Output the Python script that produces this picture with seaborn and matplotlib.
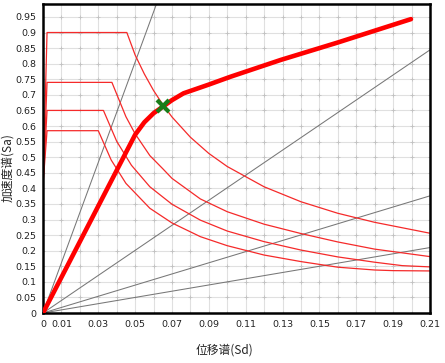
import numpy as np
import pandas as pd
import matplotlib
matplotlib.use("Agg")
import matplotlib.pyplot as plt
import seaborn as sns

# capacity spectrum (thick red line)
cap_sd = [0, 0.050, 0.055, 0.060, 0.0655, 0.070, 0.0763, 0.090, 0.1017, 0.129, 0.160, 0.1997]
cap_sa = [0, 0.572, 0.612, 0.641, 0.664, 0.683, 0.705, 0.733, 0.758, 0.812, 0.868, 0.943]

# demand spectra (thin red lines)
a_sd = [0, 0.0022, 0.0455, 0.050, 0.055, 0.060, 0.065, 0.070, 0.080, 0.090, 0.100, 0.120, 0.140, 0.160, 0.180, 0.210]
a_sa = [0.405, 0.90, 0.90, 0.828, 0.767, 0.714, 0.669, 0.629, 0.564, 0.512, 0.470, 0.405, 0.357, 0.320, 0.291, 0.256]
b_sd = [0, 0.0022, 0.0374, 0.045, 0.050, 0.058, 0.065, 0.070, 0.0854, 0.100, 0.120, 0.140, 0.160, 0.180, 0.210]
b_sa = [0.41, 0.74, 0.74, 0.630, 0.575, 0.505, 0.463, 0.432, 0.366, 0.325, 0.285, 0.255, 0.228, 0.205, 0.181]
c_sd = [0, 0.0022, 0.0328, 0.040, 0.048, 0.058, 0.070, 0.0854, 0.100, 0.120, 0.140, 0.160, 0.180, 0.195, 0.210]
c_sa = [0.41, 0.65, 0.65, 0.551, 0.474, 0.405, 0.349, 0.298, 0.263, 0.229, 0.202, 0.180, 0.163, 0.152, 0.148]
d_sd = [0, 0.0022, 0.030, 0.037, 0.045, 0.058, 0.070, 0.0854, 0.100, 0.120, 0.140, 0.160, 0.180, 0.190, 0.210]
d_sa = [0.41, 0.585, 0.585, 0.491, 0.416, 0.336, 0.289, 0.245, 0.216, 0.186, 0.165, 0.147, 0.138, 0.136, 0.135]

# constant period lines through origin (slope Sa/Sd)
period_slopes = [16.1, 4.02, 1.79, 1.0]

# performance point
pp_sd, pp_sa = 0.0653, 0.664

x_ticks = np.round(np.arange(0, 0.2101, 0.01), 2)
y_ticks = np.round(np.arange(0, 0.951, 0.05), 2)

demand = pd.concat([
    pd.DataFrame({"Sd": a_sd, "Sa": a_sa, "curve": "a"}),
    pd.DataFrame({"Sd": b_sd, "Sa": b_sa, "curve": "b"}),
    pd.DataFrame({"Sd": c_sd, "Sa": c_sa, "curve": "c"}),
    pd.DataFrame({"Sd": d_sd, "Sa": d_sa, "curve": "d"}),
])

sns.set_style("white")
plt.rcParams['font.family'] = ['DejaVu Sans', 'Noto Sans CJK SC']

fig = plt.figure(figsize=(4.45, 3.63), dpi=100)
ax = fig.add_axes([0.0966, 0.1377, 0.8696, 0.85])

# grid
for xv in x_ticks:
    ax.axvline(xv, color='#e0e0e0', lw=0.8, zorder=0)
for yv in y_ticks:
    ax.axhline(yv, color='#e0e0e0', lw=0.8, zorder=0)
gx, gy = np.meshgrid(x_ticks, y_ticks)
ax.plot(gx.ravel(), gy.ravel(), ls='none', marker='+', ms=3, mew=0.6, color='#c2c2c2', zorder=0.5)

for s in period_slopes:
    ax.axline((0, 0), slope=s, color='#777777', lw=0.75, zorder=1)

sns.lineplot(data=demand, x="Sd", y="Sa", units="curve", estimator=None, sort=False,
             color='#f52a2a', lw=0.9, ax=ax, zorder=2)
sns.lineplot(x=cap_sd, y=cap_sa, sort=False, color='#ff0000', lw=3.3, ax=ax, zorder=3)
ax.plot([pp_sd], [pp_sa], marker='x', ms=8, mew=3, color='#1a7d1a', zorder=4)

ax.set_xlim(0, 0.21)
ax.set_ylim(0, 0.99)
ax.set_xticks(x_ticks)
ax.set_xticklabels(["0" if i == 0 else (f"{v:g}" if i % 2 == 1 else "") for i, v in enumerate(x_ticks)])
ax.set_yticks(y_ticks)
ax.set_yticklabels([f"{v:g}" for v in y_ticks])
ax.tick_params(axis='both', direction='out', length=3, width=1, color='black',
               labelsize=6.8, labelcolor='#222222', pad=2)

for sp in ax.spines.values():
    sp.set_visible(True)
    sp.set_color('black')
    sp.set_linewidth(1.8)

ax.set_xlabel("位移谱(Sd)", family=['Noto Sans CJK SC'], fontsize=8.5, color='#222222')
ax.set_ylabel("加速度谱(Sa)", family=['Noto Sans CJK SC'], fontsize=8.5, color='#222222')
ax.xaxis.set_label_coords(0.47, -0.10)
ax.yaxis.set_label_coords(-0.075, 0.47)

fig.savefig("out.png", dpi=100)
